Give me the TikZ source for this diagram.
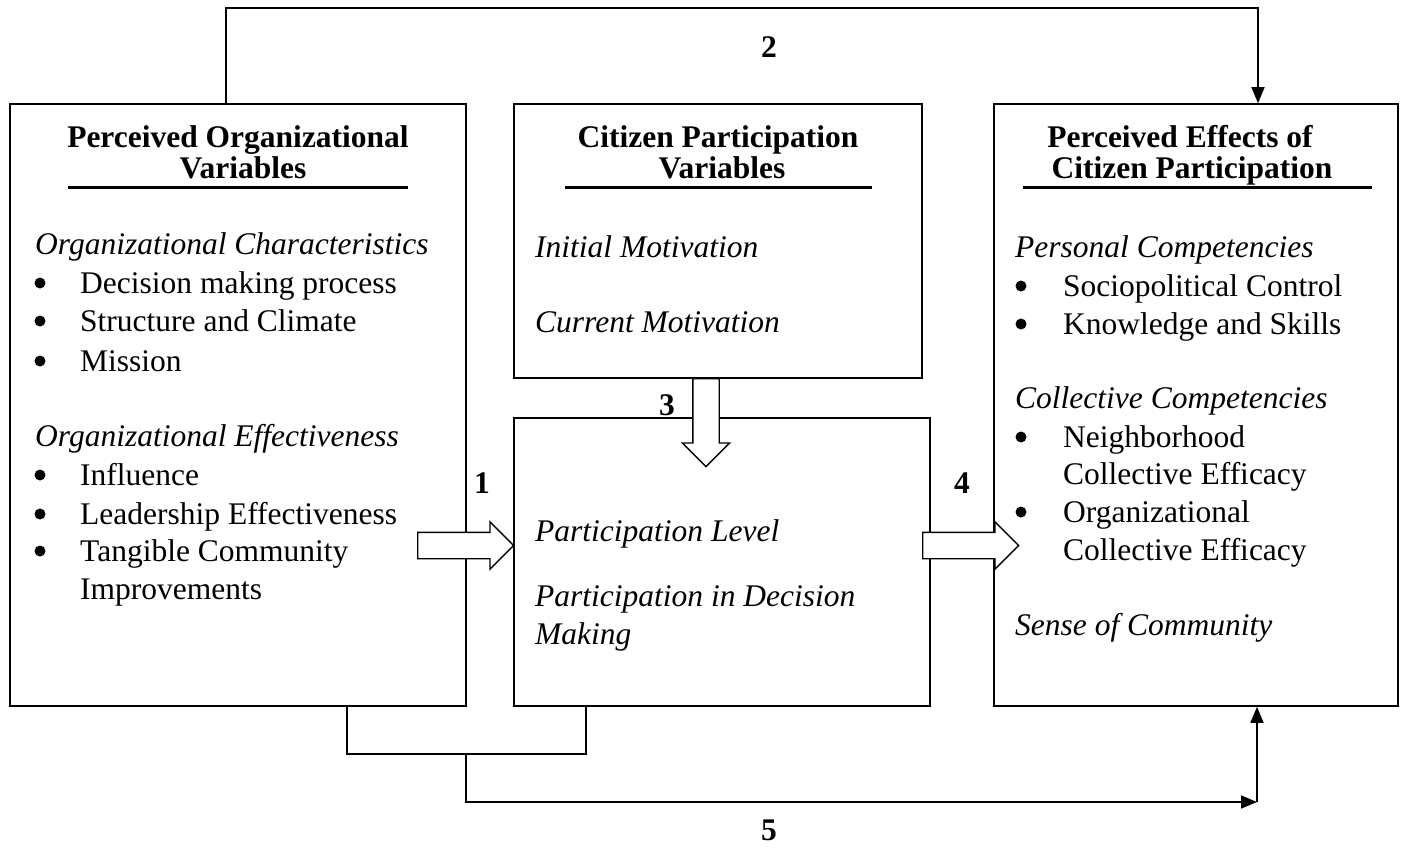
\documentclass[tikz,border=0pt]{standalone}
\usepackage{fontspec}
\setmainfont{Liberation Serif}
\usetikzlibrary{arrows.meta,shapes.arrows,positioning}

\tikzset{
  box/.style={draw, line width=1.6pt, inner sep=0pt},
  heading/.style={font=\fontsize{31.5}{31}\selectfont\bfseries, inner sep=0pt, anchor=base},
  cat/.style={font=\fontsize{31.5}{38}\selectfont\itshape, inner sep=0pt, anchor=base west},
  item/.style={font=\fontsize{31.5}{38}\selectfont, inner sep=0pt, anchor=base west},
  num/.style={font=\fontsize{31.5}{38}\selectfont\bfseries, inner sep=0pt},
  uline/.style={line width=3pt},
  conn/.style={line width=1.6pt},
  blockarrow/.style={single arrow, draw, fill=white, line width=1.3pt, anchor=tail,
    inner xsep=0pt, inner ysep=12.5pt, single arrow head extend=10.5pt}
}

\begin{document}
\begin{tikzpicture}[x=1pt,y=-1pt]
\useasboundingbox (0,0) rectangle (1408,867);

% the four boxes
\node[box, minimum width=456pt, minimum height=602pt] (org) at (238,405) {};
\node[box, minimum width=408pt, minimum height=274pt] (cit) at (718,241) {};
\node[box, minimum width=416pt, minimum height=288pt] (lev) at (722,562) {};
\node[box, minimum width=404pt, minimum height=602pt] (eff) at (1196,405) {};

% left box
\node[heading] (orgh1) at (238,147) {Perceived Organizational};
\node[heading] (orgh2) at (243,178) {Variables};
\draw[uline] (68,187) -- (408,187);
\node[cat] (orgc) at (35,254) {Organizational Characteristics};
\foreach \yy/\tt in {293/Decision making process, 331/Structure and Climate, 371/Mission}{
  \fill (40,\yy-10) circle (5.5);
  \node[item] (o\yy) at (80,\yy) {\tt};
}
\node[cat] (orge) at (35,446) {Organizational Effectiveness};
\foreach \yy/\tt in {485/Influence, 524/Leadership Effectiveness, 561/Tangible Community}{
  \fill (40,\yy-10) circle (5.5);
  \node[item] (o\yy) at (80,\yy) {\tt};
}
\node[item] (o599) at (80,599) {Improvements};

% middle boxes
\node[heading] (cith1) at (718,147) {Citizen Participation};
\node[heading] (cith2) at (722,178) {Variables};
\draw[uline] (565,187) -- (872,187);
\node[cat] (init) at (535,257) {Initial Motivation};
\node[cat] (curr) at (535,332) {Current Motivation};
\node[cat] (plev) at (535,541) {Participation Level};
\node[cat] (pdec) at (535,606) {Participation in Decision};
\node[cat] (pmak) at (535,644) {Making};

% right box
\node[heading] (effh1) at (1180,147) {Perceived Effects of};
\node[heading] (effh2) at (1192,178) {Citizen Participation};
\draw[uline] (1023,187) -- (1372,187);
\node[cat] (pers) at (1015,257) {Personal Competencies};
\foreach \yy/\tt in {296/Sociopolitical Control, 334/Knowledge and Skills}{
  \fill (1021,\yy-10) circle (5.5);
  \node[item] (e\yy) at (1063,\yy) {\tt};
}
\node[cat] (coll) at (1015,408) {Collective Competencies};
\foreach \yy/\tt in {447/Neighborhood, 522/Organizational}{
  \fill (1021,\yy-10) circle (5.5);
  \node[item] (e\yy) at (1063,\yy) {\tt};
}
\node[item] (e484) at (1063,484) {Collective Efficacy};
\node[item] (e560) at (1063,560) {Collective Efficacy};
\node[cat] (sense) at (1015,635) {Sense of Community};

% connectors
\coordinate (t1) at (226,8);
\coordinate (t2) at (1258,8);
\draw[conn, -{Triangle[length=16pt,width=13pt]}] (org.north -| t1) -- (t1) -- (t2) -- (eff.north -| t2);

\coordinate (b1) at (347,754);
\coordinate (b2) at (586,754);
\coordinate (b3) at (466,754);
\coordinate (b4) at (466,802);
\coordinate (b5) at (1257,802);
\draw[conn] (org.south -| b1) -- (b1) -- (b2) -- (lev.south -| b2);
\draw[conn, -{Triangle[length=16pt,width=13pt]}] (b3) -- (b4) -- (b5);
\draw[conn, -{Triangle[length=16pt,width=13pt]}] (b5) -- (eff.south -| b5);

% block arrows
\node[blockarrow, minimum height=96pt] (a1) at (417,545.5) {};
\node[blockarrow, minimum height=96pt] (a4) at (922,545.5) {};
\node[blockarrow, minimum height=88pt, rotate=-90] (a3) at (706,378) {};

% numbers
\node[num] (n1) at (482,483) {1};
\node[num] (n2) at (769,47) {2};
\node[num] (n3) at (667,405) {3};
\node[num] (n4) at (962,483) {4};
\node[num] (n5) at (769,830) {5};
\end{tikzpicture}
\end{document}
